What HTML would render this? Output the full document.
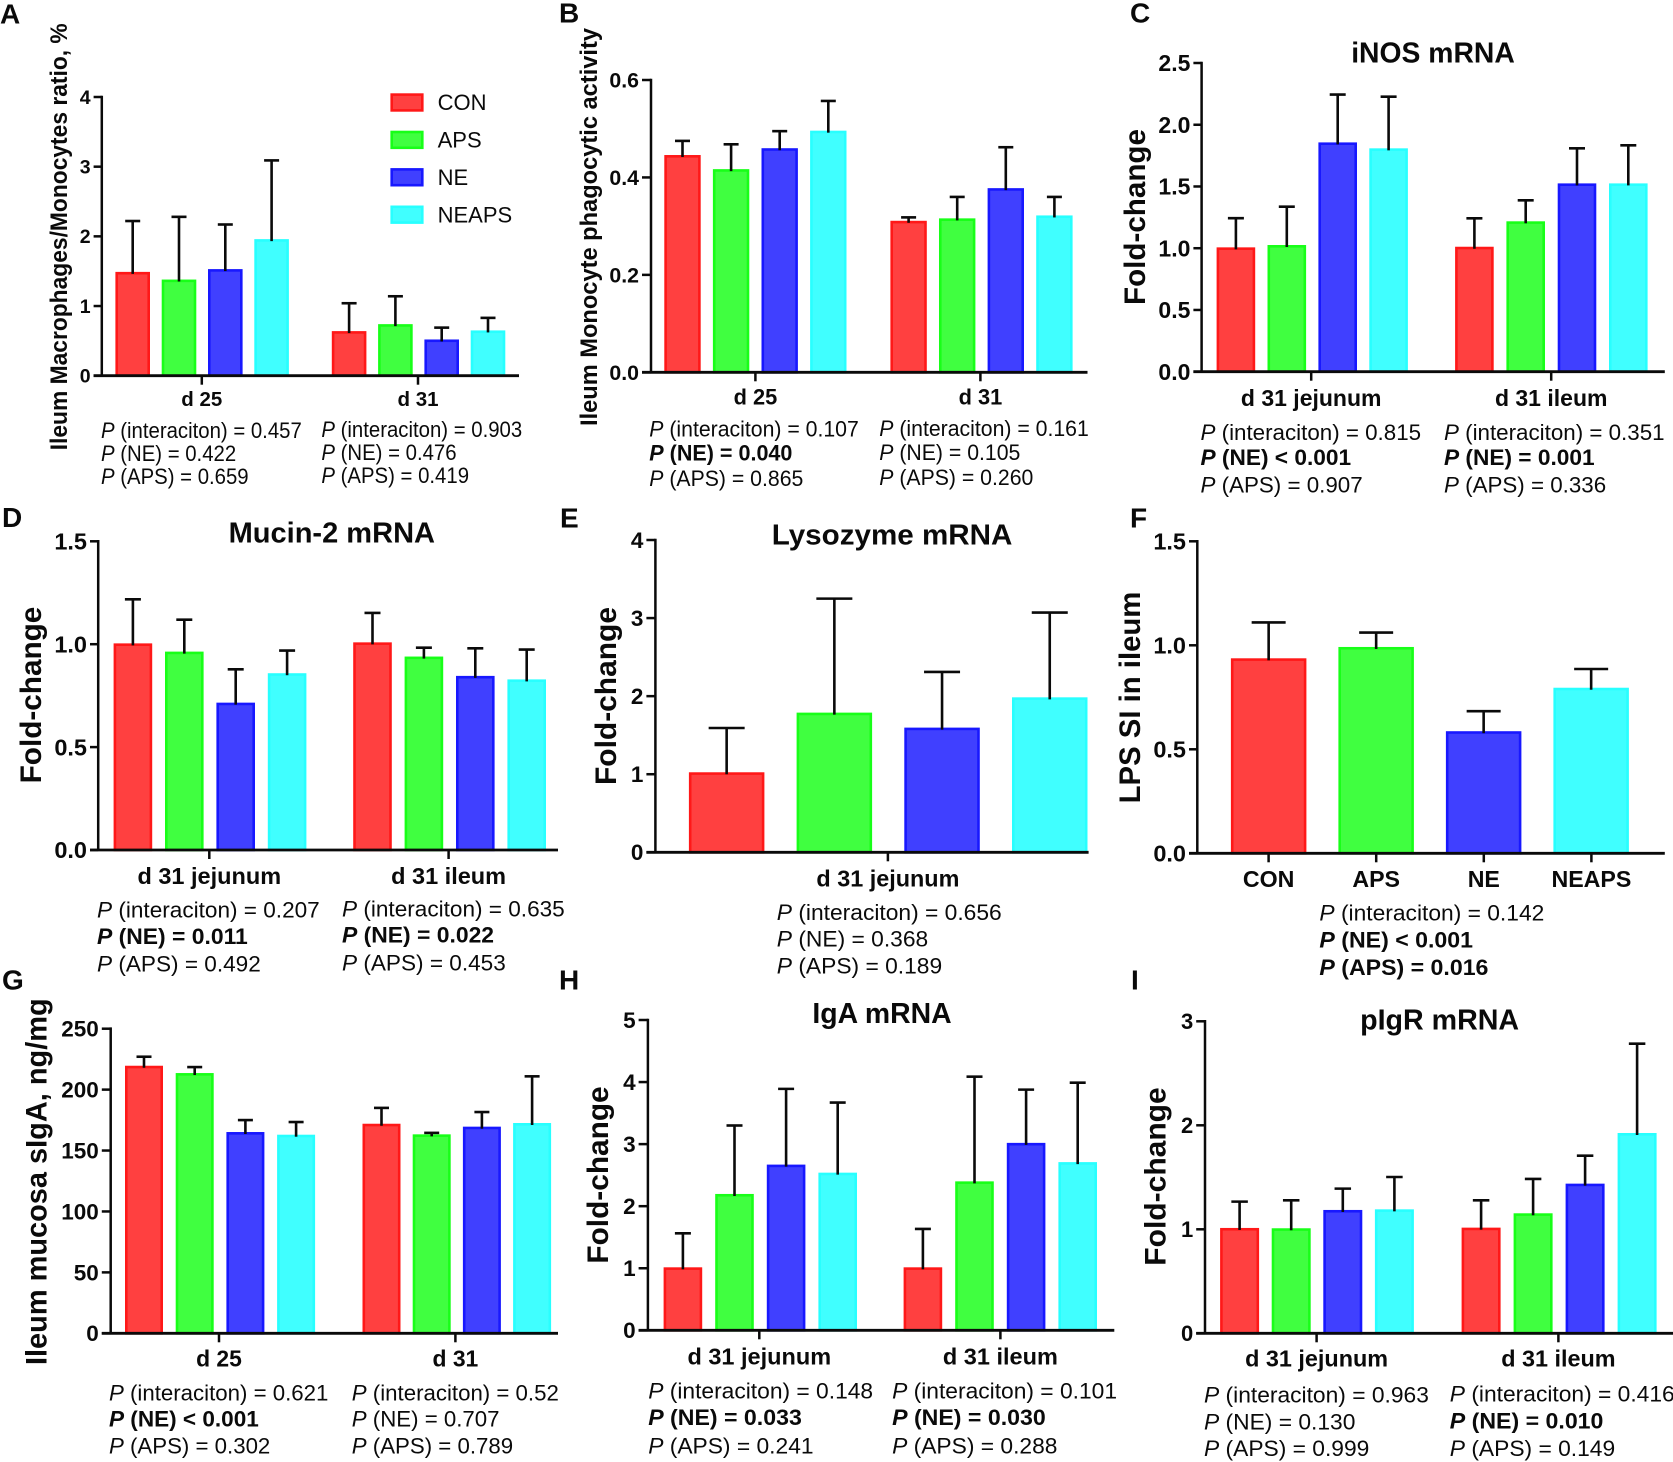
<!DOCTYPE html>
<html lang="en">
<head>
<meta charset="utf-8">
<title>Ileum and jejunum immune measures</title>
<style>
html,body{margin:0;padding:0;background:#fff;width:1673px;height:1462px;overflow:hidden}
svg{display:block}
text{font-family:"Liberation Sans",Arial,sans-serif;fill:#0a0a0a}
.b{font-weight:bold}
.i{font-style:italic}
</style>
</head>
<body>
<svg id="figure" xmlns="http://www.w3.org/2000/svg" width="1673" height="1462" viewBox="0 0 1673 1462"></svg>
<script>
/* shared */
const seriesNames = ["CON", "APS", "NE", "NEAPS"];
const seriesFill = ["#ff4040", "#40ff40", "#4040ff", "#40ffff"];
const seriesEdge = ["#ff1818", "#18ff18", "#1818ff", "#28ffff"];

/* Panel A */
const aGroups = ["d 25", "d 31"];
const aTicks = ["0", "1", "2", "3", "4"];
const aValues = [1.49, 1.38, 1.53, 1.96, 0.64, 0.74, 0.52, 0.65];
const aErrors = [2.22, 2.28, 2.17, 3.09, 1.04, 1.14, 0.69, 0.83];
const aStats1 = ["(interaciton) = 0.457", "(NE) = 0.422", "(APS) = 0.659"];
const aStats2 = ["(interaciton) = 0.903", "(NE) = 0.476", "(APS) = 0.419"];

/* Panel B */
const bGroups = ["d 25", "d 31"];
const bTicks = ["0.0", "0.2", "0.4", "0.6"];
const bValues = [0.446, 0.417, 0.46, 0.496, 0.311, 0.316, 0.378, 0.322];
const bErrors = [0.475, 0.468, 0.495, 0.557, 0.318, 0.36, 0.462, 0.36];
const bStats1 = ["(interaciton) = 0.107", "*(NE) = 0.040", "(APS) = 0.865"];
const bStats2 = ["(interaciton) = 0.161", "(NE) = 0.105", "(APS) = 0.260"];

/* Panel C */
const cGroups = ["d 31 jejunum", "d 31 ileum"];
const cTicks = ["0.0", "0.5", "1.0", "1.5", "2.0", "2.5"];
const cValues = [1.007, 1.026, 1.857, 1.809, 1.012, 1.218, 1.525, 1.525];
const cErrors = [1.243, 1.336, 2.244, 2.227, 1.242, 1.388, 1.809, 1.833];
const cStats1 = ["(interaciton) = 0.815", "*(NE) < 0.001", "(APS) = 0.907"];
const cStats2 = ["(interaciton) = 0.351", "*(NE) = 0.001", "(APS) = 0.336"];

/* Panel D */
const dGroups = ["d 31 jejunum", "d 31 ileum"];
const dTicks = ["0.0", "0.5", "1.0", "1.5"];
const dValues = [1.004, 0.964, 0.716, 0.859, 1.009, 0.94, 0.846, 0.829];
const dErrors = [1.218, 1.119, 0.878, 0.969, 1.152, 0.983, 0.98, 0.974];
const dStats1 = ["(interaciton) = 0.207", "*(NE) = 0.011", "(APS) = 0.492"];
const dStats2 = ["(interaciton) = 0.635", "*(NE) = 0.022", "(APS) = 0.453"];

/* Panel E */
const eGroups = ["d 31 jejunum"];
const eTicks = ["0", "1", "2", "3", "4"];
const eValues = [1.025, 1.789, 1.597, 1.985];
const eErrors = [1.592, 3.249, 2.31, 3.07];
const eStats1 = ["(interaciton) = 0.656", "(NE) = 0.368", "(APS) = 0.189"];

/* Panel F */
const fGroups = ["CON", "APS", "NE", "NEAPS"];
const fTicks = ["0.0", "0.5", "1.0", "1.5"];
const fValues = [0.9375, 0.992, 0.587, 0.796];
const fErrors = [1.11, 1.061, 0.683, 0.886];
const fStats1 = ["(interaciton) = 0.142", "*(NE) < 0.001", "*(APS) = 0.016"];

/* Panel G */
const gGroups = ["d 25", "d 31"];
const gTicks = ["0", "50", "100", "150", "200", "250"];
const gValues = [219.6, 213.6, 165.2, 163, 172, 163.3, 169.6, 172.6];
const gErrors = [227, 218.5, 175, 173.4, 185, 164.5, 181.6, 210.9];
const gStats1 = ["(interaciton) = 0.621", "*(NE) < 0.001", "(APS) = 0.302"];
const gStats2 = ["(interaciton) = 0.52", "(NE) = 0.707", "(APS) = 0.789"];

/* Panel H */
const hGroups = ["d 31 jejunum", "d 31 ileum"];
const hTicks = ["0", "1", "2", "3", "4", "5"];
const hValues = [1.015, 2.197, 2.67, 2.54, 1.015, 2.4, 3.02, 2.71];
const hErrors = [1.563, 3.3, 3.89, 3.67, 1.633, 4.087, 3.878, 3.99];
const hStats1 = ["(interaciton) = 0.148", "*(NE) = 0.033", "(APS) = 0.241"];
const hStats2 = ["(interaciton) = 0.101", "*(NE) = 0.030", "(APS) = 0.288"];

/* Panel I */
const iGroups = ["d 31 jejunum", "d 31 ileum"];
const iTicks = ["0", "1", "2", "3"];
const iValues = [1.013, 1.01, 1.186, 1.192, 1.016, 1.154, 1.439, 1.926];
const iErrors = [1.266, 1.279, 1.391, 1.503, 1.279, 1.484, 1.708, 2.785];
const iStats1 = ["(interaciton) = 0.963", "(NE) = 0.130", "(APS) = 0.999"];
const iStats2 = ["(interaciton) = 0.416", "*(NE) = 0.010", "(APS) = 0.149"];

const NS = "http://www.w3.org/2000/svg";
const figure = document.getElementById("figure");

function node(parent, tag) {
  const el = document.createElementNS(NS, tag);
  parent.appendChild(el);
  return el;
}
function line(parent, x1, y1, x2, y2, w, color) {
  const el = node(parent, "line");
  el.setAttribute("x1", x1);
  el.setAttribute("y1", y1);
  el.setAttribute("x2", x2);
  el.setAttribute("y2", y2);
  el.setAttribute("stroke", color || "#0a0a0a");
  el.setAttribute("stroke-width", w);
  return el;
}
function label(parent, x, y, str, size, bold, anchor, len) {
  const el = node(parent, "text");
  el.setAttribute("x", x);
  el.setAttribute("y", y);
  el.setAttribute("font-size", size);
  if (bold) el.setAttribute("class", "b");
  if (anchor) el.setAttribute("text-anchor", anchor);
  if (len) {
    el.setAttribute("textLength", len);
    el.setAttribute("lengthAdjust", "spacingAndGlyphs");
  }
  el.textContent = str;
  return el;
}

function drawPanel(id, c, groups, ticks, values, errors) {
  const g = node(figure, "g");
  
  

  const yScale = function (v) { return c.bottom - (v / c.yMax) * (c.bottom - c.top); };
  const perGroup = values.length / c.groupLefts;
  const barLeft = function (i) {
    const grp = Math.floor(i / perGroup);
    const base = grp === 0 ? c.left1 : c.left2;
    const step = grp === 0 ? c.step : (c.step2 || c.step);
    return base + (i - grp * perGroup) * step;
  };

  /* bars */
  values.forEach(function (v, i) {
    const s = i % seriesNames.length;
    const grp = Math.floor(i / perGroup);
    const x = barLeft(i);
    const top = yScale(v);
    const r = node(g, "rect");
    
    
    r.setAttribute("x", x + 1.3);
    r.setAttribute("y", top + 1.3);
    r.setAttribute("width", c.barW - 2.6);
    r.setAttribute("height", Math.max(0, c.bottom - top - 1.3));
    r.setAttribute("fill", seriesFill[s]);
    r.setAttribute("stroke", seriesEdge[s]);
    r.setAttribute("stroke-width", 2.6);

    const cx = x + c.barW / 2;
    const eTop = yScale(errors[i]);
    const stem = line(g, cx, top + 2, cx, eTop, 2.6);
    
    
    const cap = line(g, cx - c.cap / 2, eTop, cx + c.cap / 2, eTop, 2.6);
    
    
  });

  /* y axis */
  const yAxis = line(g, c.axisX, c.top - 1.3, c.axisX, c.bottom, 2.5);
  
  
  ticks.forEach(function (t) {
    const y = yScale(parseFloat(t));
    const tk = line(g, c.tickStart, y, c.axisX, y, 2.5);
    
    
    const tl = label(g, c.tickStart - 3, y + c.tickFont * 0.35, t, c.tickFont, true, "end");
    
    
  });

  /* x axis */
  const xAxis = line(g, c.tickStart, c.bottom, c.right, c.bottom, 2.8);
  
  
  groups.forEach(function (name, k) {
    const cx = c.tickXs(k);
    const tk = line(g, cx, c.bottom, cx, c.bottom + 9, 2.5);
    
    
    const tl = label(g, cx, c.catY, name, c.catFont, true, "middle");
    
    
  });

  /* y title */
  const yt = label(g, 0, 0, c.yTitle, c.yTitleFont, true, "middle", c.yTitleLen);
  yt.setAttribute("transform", "translate(" + c.yTitleX + "," + c.yTitleY + ") rotate(-90)");
  
  

  /* chart title */
  if (c.title) {
    const tt = label(g, c.titleX, c.titleY, c.title, 29, true, "middle", c.titleLen);
    
    
  }

  /* panel letter */
  const pl = label(g, c.letterX, c.letterY, id.toUpperCase(), 28, true);
  
  
}

function drawStats(id, col, x, y1, y2, y3, sx, lines) {
  const ys = [y1, y2, y3];
  lines.forEach(function (raw, k) {
    const bold = raw.charAt(0) === "*";
    const body = bold ? raw.slice(1) : raw;
    const widthFit = sx * (bold ? 1.031 : 1.0166);
    const t = node(figure, "text");
    
    
    t.setAttribute("font-size", 22);
    t.setAttribute("transform", "translate(" + x + "," + ys[k] + ") scale(" + widthFit + ",1)");
    if (bold) t.setAttribute("class", "b");
    const p = node(t, "tspan");
    p.setAttribute("class", bold ? "b i" : "i");
    p.textContent = "P";
    const rest = node(t, "tspan");
    rest.textContent = " " + body;
  });
}

function evenTicks(a, b) { return function (k) { return k === 0 ? a : b; }; }

drawPanel("a", {
  axisX: 101.8, top: 97, bottom: 375.7, right: 519, tickStart: 93.6, yMax: 4,
  groupLefts: 2, left1: 115.4, left2: 331.8, step: 46.3, barW: 34.6, cap: 15,
  tickXs: evenTicks(201.8, 418), catY: 406, catFont: 20.5, tickFont: 19.5,
  yTitle: "Ileum Macrophages/Monocytes ratio, %", yTitleFont: 24, yTitleLen: 427, yTitleX: 67, yTitleY: 236.8,
  letterX: 0, letterY: 23.3
}, aGroups, aTicks, aValues, aErrors);

drawPanel("b", {
  axisX: 651, top: 80, bottom: 372.3, right: 1087.5, tickStart: 642, yMax: 0.6,
  groupLefts: 2, left1: 664.3, left2: 890.4, step: 48.6, barW: 36.4, cap: 15,
  tickXs: evenTicks(755.4, 980.4), catY: 404.5, catFont: 21.8, tickFont: 21.3,
  yTitle: "Ileum Monocyte phagocytic activity", yTitleFont: 24, yTitleLen: 398, yTitleX: 597, yTitleY: 227,
  letterX: 559, letterY: 22.7
}, bGroups, bTicks, bValues, bErrors);

drawPanel("c", {
  axisX: 1201.6, top: 63, bottom: 371.7, right: 1664.8, tickStart: 1193.4, yMax: 2.5,
  groupLefts: 2, left1: 1216.6, left2: 1455.1, step: 50.9, step2: 51.3, barW: 38.6, cap: 16,
  tickXs: evenTicks(1311.2, 1551.2), catY: 406, catFont: 23, tickFont: 23,
  yTitle: "Fold-change", yTitleFont: 30, yTitleLen: 176, yTitleX: 1145, yTitleY: 217,
  title: "iNOS mRNA", titleX: 1433, titleY: 62.3, titleLen: 163.6,
  letterX: 1130, letterY: 22.7
}, cGroups, cTicks, cValues, cErrors);

drawPanel("d", {
  axisX: 98.2, top: 541.3, bottom: 850, right: 558, tickStart: 90, yMax: 1.5,
  groupLefts: 2, left1: 113.6, left2: 353.2, step: 51.4, barW: 38.6, cap: 16,
  tickXs: evenTicks(209.3, 448.6), catY: 884, catFont: 23.5, tickFont: 23.5,
  yTitle: "Fold-change", yTitleFont: 30, yTitleLen: 176.7, yTitleX: 41, yTitleY: 695,
  title: "Mucin-2 mRNA", titleX: 331.8, titleY: 542.7, titleLen: 206.4,
  letterX: 2, letterY: 527
}, dGroups, dTicks, dValues, dErrors);

drawPanel("e", {
  axisX: 655.4, top: 540, bottom: 852.3, right: 1088.6, tickStart: 646.4, yMax: 4,
  groupLefts: 1, left1: 688.9, left2: 688.9, step: 107.7, barW: 75.5, cap: 36,
  tickXs: evenTicks(887.9, 887.9), catY: 886.7, catFont: 23.4, tickFont: 22.5,
  yTitle: "Fold-change", yTitleFont: 30, yTitleLen: 178, yTitleX: 616, yTitleY: 696,
  title: "Lysozyme mRNA", titleX: 892.1, titleY: 544.5, titleLen: 240.7,
  letterX: 560, letterY: 527.7
}, eGroups, eTicks, eValues, eErrors);

drawPanel("f", {
  axisX: 1197.3, top: 541.3, bottom: 853.3, right: 1664.8, tickStart: 1189, yMax: 1.5,
  groupLefts: 1, left1: 1230.9, left2: 1230.9, step: 107.5, barW: 75.5, cap: 34,
  tickXs: function (k) { return 1268.6 + k * 107.6; }, catY: 887, catFont: 23.2, tickFont: 23.5,
  yTitle: "LPS SI in ileum", yTitleFont: 30, yTitleLen: 211.7, yTitleX: 1139.8, yTitleY: 697.5,
  letterX: 1130, letterY: 527.3
}, fGroups, fTicks, fValues, fErrors);

drawPanel("g", {
  axisX: 110.7, top: 1028.7, bottom: 1333.3, right: 558, tickStart: 101.8, yMax: 250,
  groupLefts: 2, left1: 125, left2: 362.5, step: 50.7, step2: 50.2, barW: 38, cap: 15,
  tickXs: evenTicks(219, 455.4), catY: 1366.7, catFont: 22.9, tickFont: 22.5,
  yTitle: "Ileum mucosa sIgA, ng/mg", yTitleFont: 30, yTitleLen: 366.7, yTitleX: 46.4, yTitleY: 1181.7,
  letterX: 2, letterY: 989.3
}, gGroups, gTicks, gValues, gErrors);

drawPanel("h", {
  axisX: 647.9, top: 1020, bottom: 1330.3, right: 1114.3, tickStart: 638.6, yMax: 5,
  groupLefts: 2, left1: 663.6, left2: 903.6, step: 51.6, barW: 38.6, cap: 16,
  tickXs: evenTicks(759.3, 1000.4), catY: 1364.7, catFont: 23.5, tickFont: 22.5,
  yTitle: "Fold-change", yTitleFont: 30, yTitleLen: 177.3, yTitleX: 608, yTitleY: 1175,
  title: "IgA mRNA", titleX: 882, titleY: 1023, titleLen: 139.3,
  letterX: 559, letterY: 989.3
}, hGroups, hTicks, hValues, hErrors);

drawPanel("i", {
  axisX: 1205, top: 1021.3, bottom: 1333.3, right: 1673, tickStart: 1196.2, yMax: 3,
  groupLefts: 2, left1: 1220.1, left2: 1461.6, step: 51.6, step2: 52, barW: 39, cap: 16.5,
  tickXs: evenTicks(1316.6, 1558.4), catY: 1366.7, catFont: 23.4, tickFont: 22,
  yTitle: "Fold-change", yTitleFont: 30, yTitleLen: 178.4, yTitleX: 1165.5, yTitleY: 1176.5,
  title: "pIgR mRNA", titleX: 1439.6, titleY: 1029.5, titleLen: 159,
  letterX: 1131, letterY: 989.3
}, iGroups, iTicks, iValues, iErrors);

drawStats("a", 1, 101, 438, 461, 484, 0.91, aStats1);
drawStats("a", 2, 321.4, 437, 460, 483, 0.91, aStats2);
drawStats("b", 1, 649.3, 436.7, 460.7, 486, 0.95, bStats1);
drawStats("b", 2, 879.3, 436, 460, 485, 0.95, bStats2);
drawStats("c", 1, 1200.5, 440, 465, 492.7, 1, cStats1);
drawStats("c", 2, 1444, 440, 465, 492.7, 1, cStats2);
drawStats("d", 1, 97, 917.7, 944, 971.7, 1.01, dStats1);
drawStats("d", 2, 342, 916.7, 942.7, 970.7, 1.01, dStats2);
drawStats("e", 1, 776.8, 920, 946.7, 973.3, 1.02, eStats1);
drawStats("f", 1, 1319.4, 920.7, 947.3, 975, 1.02, fStats1);
drawStats("g", 1, 109, 1400.7, 1426.7, 1453.3, 0.995, gStats1);
drawStats("g", 2, 351.8, 1400.7, 1426.7, 1453.3, 0.995, gStats2);
drawStats("h", 1, 648.2, 1398.3, 1425, 1453.3, 1.02, hStats1);
drawStats("h", 2, 892.1, 1398.3, 1425, 1453.3, 1.02, hStats2);
drawStats("i", 1, 1204, 1402.3, 1429.3, 1456, 1.02, iStats1);
drawStats("i", 2, 1449.8, 1401.7, 1428.3, 1456, 1.02, iStats2);

/* legend in panel A */
const legend = node(figure, "g");


seriesNames.forEach(function (name, k) {
  const y = 93.3 + k * 37.4;
  const sw = node(legend, "rect");
  
  
  sw.setAttribute("x", 391.7);
  sw.setAttribute("y", y + 1.3);
  sw.setAttribute("width", 30.6);
  sw.setAttribute("height", 15.8);
  sw.setAttribute("fill", seriesFill[k]);
  sw.setAttribute("stroke", seriesEdge[k]);
  sw.setAttribute("stroke-width", 2.6);
  const t = label(legend, 437.6, y + 16.9, name, 22, false);
  
  
});
</script>
</body>
</html>
